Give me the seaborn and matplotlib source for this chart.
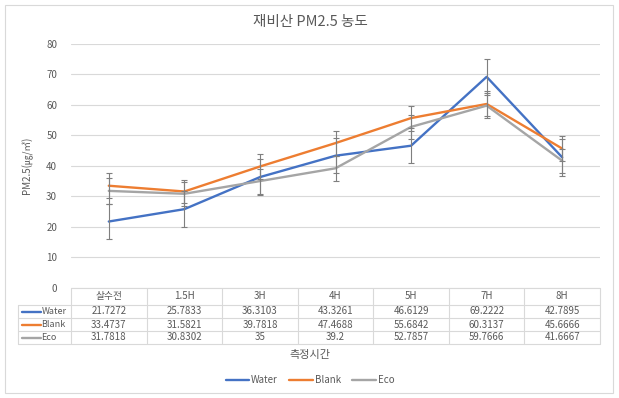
import pandas as pd
import matplotlib.pyplot as plt
import matplotlib.transforms as mtransforms
from matplotlib.lines import Line2D
from matplotlib.patches import Rectangle
import seaborn as sns

# chart data
times = ["살수전", "1.5H", "3H", "4H", "5H", "7H", "8H"]
series = ["Water", "Blank", "Eco"]
water = [21.7272, 25.7833, 36.3103, 43.3261, 46.6129, 69.2222, 42.7895]
blank = [33.4737, 31.5821, 39.7818, 47.4688, 55.6842, 60.3137, 45.6666]
eco = [31.7818, 30.8302, 35, 39.2, 52.7857, 59.7666, 41.6667]
water_err = [5.8, 5.9, 5.9, 5.8, 5.7, 5.9, 6.0]
blank_err = [4.1, 3.9, 4.1, 4.1, 4.1, 4.1, 4.0]
eco_err = [4.2, 3.9, 4.1, 4.1, 4.0, 4.1, 4.0]
colors = ["#4472C4", "#ED7D31", "#A5A5A5"]

values = {"Water": water, "Blank": blank, "Eco": eco}
errors = {"Water": water_err, "Blank": blank_err, "Eco": eco_err}

df = pd.DataFrame([
    {"series": s, "pos": i, "value": v}
    for s in series for i, v in enumerate(values[s])
])

sns.set_theme(style="white")
plt.rcParams["font.family"] = ["Noto Sans CJK KR", "DejaVu Sans"]
txt = "#595959"
grid = "#D9D9D9"

W, H = 619, 398
fig = plt.figure(figsize=(W / 100, H / 100), dpi=100)

def fx(px):
    return px / W

def fy(py):
    return 1 - py / H

# outer chart border
fig.add_artist(Rectangle((fx(5), fy(393)), fx(608), 388 / H, transform=fig.transFigure,
                         fill=False, edgecolor=grid, linewidth=0.8))

ax = fig.add_axes([fx(71), fy(287.7), fx(529), (287.7 - 44) / H])

for s, c in zip(series, colors):
    ax.errorbar(range(len(times)), values[s], yerr=errors[s], fmt="none",
                ecolor="#7F7F7F", elinewidth=0.8, capsize=2.2, capthick=0.8, zorder=3)

sns.lineplot(data=df, x="pos", y="value", hue="series", hue_order=series,
             palette=colors, linewidth=1.7, legend=False, ax=ax, zorder=2)

ax.set_xlim(-0.5, len(times) - 0.5)
ax.set_ylim(0, 80)
ax.set_yticks(range(0, 81, 10))
ax.set_xticks([])
ax.set_xlabel("")
ax.set_ylabel("")
ax.yaxis.grid(True, color=grid, linewidth=0.8)
ax.set_axisbelow(True)
for sp in ax.spines.values():
    sp.set_visible(False)
ax.tick_params(axis="y", length=0, pad=10, labelsize=7, labelcolor=txt)

# y-axis title
fig.text(fx(27), fy(165), "PM2.5(㎍/㎥)", rotation=90, ha="center", va="center",
         fontsize=7, color=txt)

# title
fig.text(fx(310), fy(22), "재비산 PM2.5 농도", ha="center", va="center",
         fontsize=10.5, color=txt)

# data table under the plot
tr = mtransforms.blended_transform_factory(ax.transData, fig.transFigure)
row_edges = [287.7, 305, 318, 331, 344]
x_left = -0.5 - (71 - 18) / (529 / len(times))
x_right = len(times) - 0.5
# horizontal lines
for k, ry in enumerate(row_edges):
    x0 = -0.5 if k == 0 else x_left
    fig.add_artist(Line2D([x0, x_right], [fy(ry), fy(ry)], transform=tr, color=grid, linewidth=0.8))
# vertical lines
for i in range(len(times) + 1):
    xv = i - 0.5
    fig.add_artist(Line2D([xv, xv], [fy(row_edges[0]), fy(row_edges[-1])], transform=tr,
                          color=grid, linewidth=0.8))
fig.add_artist(Line2D([x_left, x_left], [fy(row_edges[1]), fy(row_edges[-1])], transform=tr,
                      color=grid, linewidth=0.8))

for i, t in enumerate(times):
    fig.text(i, fy((row_edges[0] + row_edges[1]) / 2), t, transform=tr, ha="center",
             va="center", fontsize=7, color=txt)
for r, (s, c) in enumerate(zip(series, colors)):
    ymid = fy((row_edges[r + 1] + row_edges[r + 2]) / 2)
    fig.add_artist(Line2D([x_left + 0.05, x_left + 0.3], [ymid, ymid], transform=tr,
                          color=c, linewidth=1.7))
    fig.text(x_left + 0.31, ymid, s, transform=tr, ha="left", va="center", fontsize=6.5, color=txt)
    for i, v in enumerate(values[s]):
        fig.text(i, ymid, f"{v:g}", transform=tr, ha="center", va="center",
                 fontsize=7, color=txt)

# x-axis title
fig.text(fx(310), fy(355), "측정시간", ha="center", va="center", fontsize=8, color=txt)

# legend
handles = [Line2D([], [], color=c, linewidth=1.7) for c in colors]
fig.legend(handles, series, loc="center", bbox_to_anchor=(fx(310), fy(380)), ncol=3,
           frameon=False, fontsize=7, labelcolor=txt, handlelength=2.4,
           columnspacing=1.2, handletextpad=0.2)

fig.savefig("out.png", dpi=100, facecolor="white")
